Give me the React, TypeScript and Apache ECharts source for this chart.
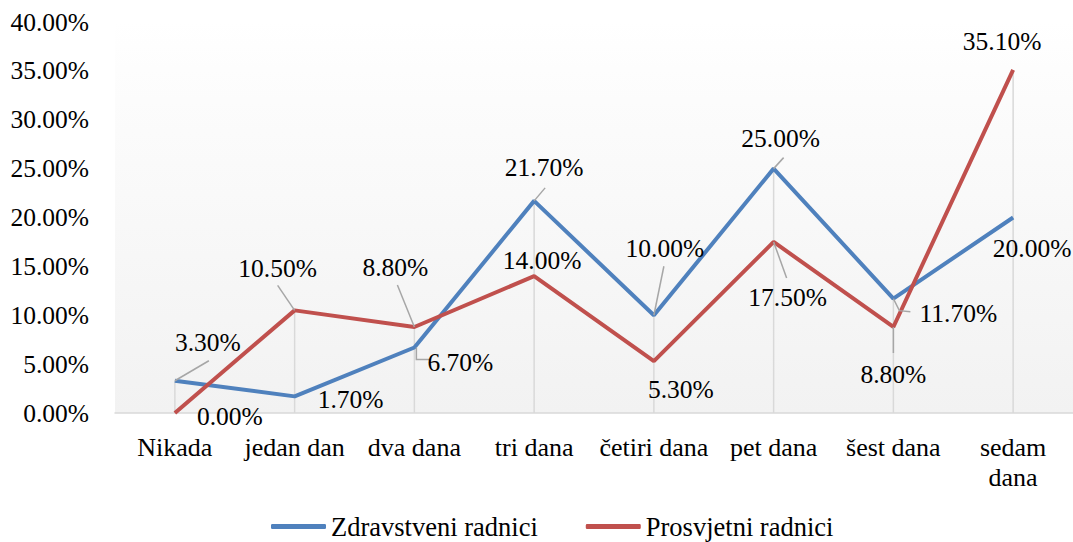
import React, { useEffect, useRef } from "react";
import * as echarts from "echarts";

const categories = ["Nikada", "jedan dan", "dva dana", "tri dana", "četiri dana", "pet dana", "šest dana", "sedam\ndana"];
const seriesNames = ["Zdravstveni radnici", "Prosvjetni radnici"];
const zdravstveni = [3.3, 1.7, 6.7, 21.7, 10.0, 25.0, 11.7, 20.0];
const prosvjetni = [0.0, 10.5, 8.8, 14.0, 5.3, 17.5, 8.8, 35.1];
const yMin = 0;
const yMax = 40;
const yStep = 5;

// label placement (style only)
const blueOffsets = [[33, -38], [56, 3], [46, 15], [10, -33], [11, -67], [7, -30], [65, 15], [19, 31]];
const redOffsets = [[55, 3], [-17, -42], [-19, -59], [8, -16], [27, 28], [14, 56], [0, 48], [-11, -28]];
const blueLeaders: (number[][] | null)[] = [
  [[0, 0], [34, -20]],
  null,
  [[2, 0], [2, 12], [15, 12]],
  [[0, 0], [11, -13]],
  [[0, 0], [10, -49]],
  [[0, 0], [10, -11]],
  [[0, 0], [6, 12], [17, 13]],
  null,
];
const redLeaders: (number[][] | null)[] = [
  null,
  [[0, 0], [-17, -25]],
  [[0, 0], [-17, -42]],
  null,
  null,
  [[0, 0], [13, 36]],
  [[0, 0], [0, 26]],
  null,
];

const FONT = "'Liberation Serif', serif";
const FS = 25.5;
const FS_LEGEND = 26.5;
const FS_X = 26;
const BLUE = "#4F81BD";
const RED = "#C0504D";

function labelSeries(name: string, values: number[], offsets: number[][], leaders: (number[][] | null)[]) {
  return {
    type: "custom",
    name: name + "-labels",
    z: 10,
    silent: true,
    data: values.map((v, i) => [i, v]),
    renderItem: (params: any, api: any) => {
      const i = params.dataIndex;
      const v = api.value(1);
      const p = api.coord([api.value(0), v]);
      const children: any[] = [];
      const ld = leaders[i];
      if (ld) {
        children.push({
          type: "polyline",
          shape: { points: ld.map((q) => [p[0] + q[0], p[1] + q[1]]) },
          style: { stroke: "#a6a6a6", lineWidth: 1.5, fill: null },
        });
      }
      children.push({
        type: "text",
        x: p[0] + offsets[i][0],
        y: p[1] + offsets[i][1],
        style: {
          text: v.toFixed(2) + "%",
          fontSize: FS,
          fontFamily: FONT,
          fill: "#000",
          align: "center",
          verticalAlign: "middle",
        },
      });
      return { type: "group", children };
    },
  };
}

export default function App() {
  const ref = useRef<HTMLDivElement>(null);
  useEffect(() => {
    if (!ref.current) return;
    const chart = echarts.init(ref.current, null, { renderer: "svg" });
    const maxVals = zdravstveni.map((v, i) => Math.max(v, prosvjetni[i]));
    chart.setOption({
      animation: false,
      backgroundColor: "#ffffff",
      textStyle: { fontFamily: FONT },
      grid: {
        left: 115,
        top: 22,
        width: 960,
        height: 391,
        show: true,
        borderWidth: 0,
        backgroundColor: new echarts.graphic.LinearGradient(0, 0, 0, 1, [
          { offset: 0, color: "#ffffff" },
          { offset: 0.12, color: "#fdfdfd" },
          { offset: 1, color: "#f2f2f2" },
        ]),
      },
      legend: {
        data: seriesNames,
        left: 266,
        top: 508,
        itemWidth: 55,
        itemHeight: 5,
        itemGap: 48,
        icon: "roundRect",
        textStyle: { fontSize: FS_LEGEND, fontFamily: FONT, color: "#000" },
      },
      xAxis: {
        type: "category",
        data: categories,
        boundaryGap: true,
        axisLine: { show: true, lineStyle: { color: "#d9d9d9", width: 1.5 } },
        axisTick: { show: false },
        axisLabel: {
          interval: 0,
          fontSize: FS_X,
          fontFamily: FONT,
          color: "#000",
          margin: 19,
          lineHeight: 30,
        },
        splitLine: { show: false },
      },
      yAxis: {
        type: "value",
        min: yMin,
        max: yMax,
        interval: yStep,
        axisLine: { show: false },
        axisTick: { show: false },
        splitLine: { show: false },
        axisLabel: {
          fontSize: FS,
          fontFamily: FONT,
          color: "#000",
          margin: 26,
          formatter: (v: number) => v.toFixed(2) + "%",
        },
      },
      series: [
        {
          type: "custom",
          name: "drop",
          silent: true,
          z: 1,
          data: maxVals.map((v, i) => [i, v]),
          renderItem: (params: any, api: any) => {
            const top = api.coord([api.value(0), api.value(1)]);
            const bot = api.coord([api.value(0), 0]);
            return {
              type: "line",
              shape: { x1: top[0], y1: top[1], x2: bot[0], y2: bot[1] },
              style: { stroke: "#d9d9d9", lineWidth: 1.5 },
            };
          },
        },
        {
          type: "line",
          name: seriesNames[0],
          data: zdravstveni,
          symbol: "none",
          z: 3,
          color: BLUE,
          lineStyle: { color: BLUE, width: 4 },
        },
        {
          type: "line",
          name: seriesNames[1],
          data: prosvjetni,
          symbol: "none",
          z: 4,
          color: RED,
          lineStyle: { color: RED, width: 4 },
        },
        labelSeries(seriesNames[0], zdravstveni, blueOffsets, blueLeaders),
        labelSeries(seriesNames[1], prosvjetni, redOffsets, redLeaders),
      ],
    });
    return () => chart.dispose();
  }, []);
  return <div ref={ref} style={{ position: "fixed", left: 0, top: 0, width: 1073, height: 542 }} />;
}
